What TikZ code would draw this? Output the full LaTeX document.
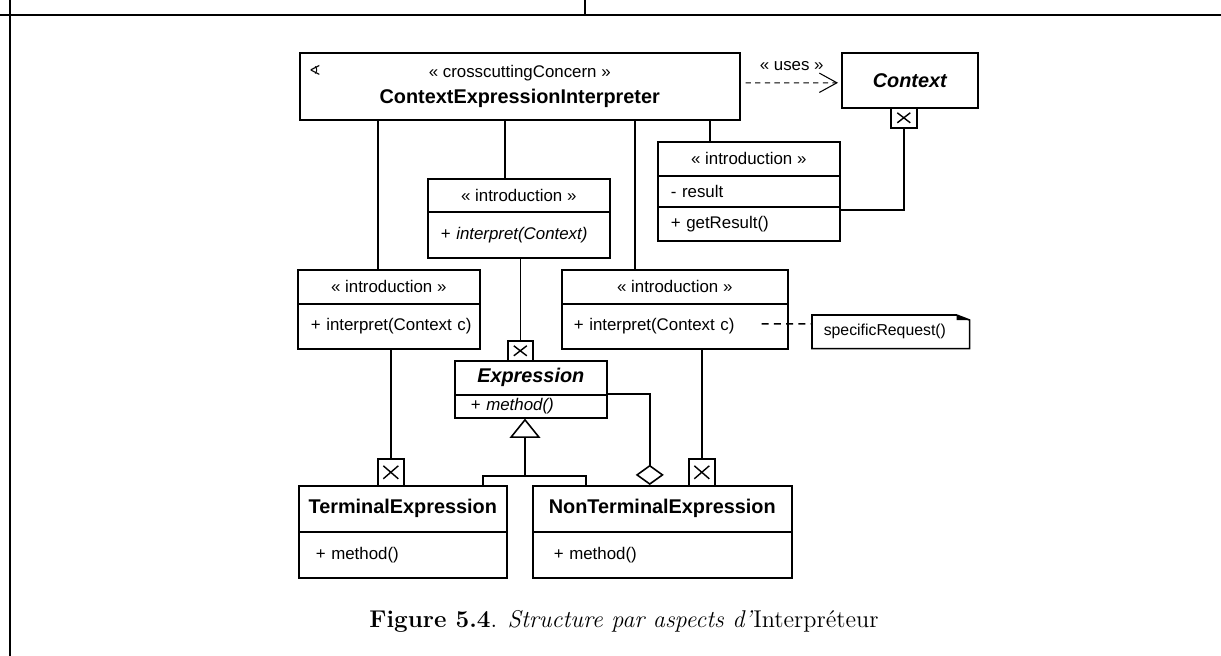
\documentclass[tikz,border=0pt]{standalone}
\usepackage{fontspec}
\usepackage{tikz}
\usetikzlibrary{arrows.meta, positioning, calc}
\newfontfamily\umlfont{Liberation Sans}
\newfontfamily\iconfont{DejaVu Sans}
\newcommand\regf{\umlfont\fontsize{9.6}{11.5}\selectfont}
\newcommand\namef{\umlfont\bfseries\fontsize{11.3}{13}\selectfont}
\tikzstyle{classbox} = [draw, line width=0.9pt, anchor=north west, inner sep=0pt, font=\regf]
\tikzstyle{member} = [classbox, align=left]
\tikzstyle{qualif} = [classbox, minimum width=0.52cm, path picture={\draw[line width=0.8pt] ([shift={(-6.5,-5)}]path picture bounding box.center) -- ++(13,10) ([shift={(-6.5,5)}]path picture bounding box.center) -- ++(13,-10);}]
\tikzstyle{qualifbig} = [classbox, minimum width=0.52cm, path picture={\draw[line width=0.8pt] ([shift={(-7.5,-6.5)}]path picture bounding box.center) -- ++(15,13) ([shift={(-7.5,6.5)}]path picture bounding box.center) -- ++(15,-13);}]
\tikzstyle{link} = [line width=0.9pt]

\begin{document}
\begin{tikzpicture}[x=0.02cm, y=-0.02cm]
    \useasboundingbox (0,0) rectangle (1221,656);

    % Cadre
    \draw[line width=1.4pt] (0,15) -- (1221,15);
    \draw[line width=1.4pt] (10,0) -- (10,656);
    \draw[line width=0.7pt] (585,0) -- (585,15);

    % Aspect
    \node[classbox, minimum width=8.8cm, minimum height=1.34cm, align=center] (main) at (299,52) {« crosscuttingConcern »\\[3.2pt]{\namef ContextExpressionInterpreter}};
    \node (mainicon) at (315,70) {\iconfont\fontsize{8}{8}\selectfont ∢};

    % Context
    \node[classbox, minimum width=2.72cm, minimum height=1.1cm, font=\namef] (ctx) at (841,52) {\itshape Context};
    \node[qualif, minimum height=0.4cm] (ctxQ) at (890,107) {};
    \draw[line width=0.6pt, dash pattern=on 3pt off 2.5pt, -{Straight Barb[length=10pt,width=11pt]}] ([xshift=0.1cm,yshift=0.07cm]main.east) -- node[above=0.12cm, font=\regf] {« uses »} ([xshift=-0.06cm,yshift=-0.05cm]ctx.west);

    % Introductions
    \node[classbox, minimum width=3.64cm, minimum height=0.68cm] (resHead) at (657,141) {« introduction »};
    \node[member, minimum width=3.64cm, minimum height=0.62cm, text width=3.12cm] (resAttr) at (657,175) {- result};
    \node[member, minimum width=3.64cm, minimum height=0.68cm, text width=3.12cm] (resOp) at (657,206) {+ getResult()};

    \node[classbox, minimum width=3.64cm, minimum height=0.66cm] (midHead) at (427,178) {« introduction »};
    \node[member, minimum width=3.64cm, minimum height=0.92cm, text width=3.12cm] (midOp) at (427,211) {\mbox{+ \textit{interpret(Context)}}};

    \node[classbox, minimum width=3.64cm, minimum height=0.68cm] (leftHead) at (297,269) {« introduction »};
    \node[member, minimum width=3.64cm, minimum height=0.9cm, text width=3.12cm] (leftOp) at (297,303) {\mbox{+ interpret(Context c)}};

    \node[classbox, minimum width=4.52cm, minimum height=0.68cm] (rightHead) at (561,269) {« introduction »};
    \node[member, minimum width=4.52cm, minimum height=0.9cm, text width=4.04cm] (rightOp) at (561,303) {\mbox{+ interpret(Context c)}};

    % Note
    \node[member, draw=none, minimum width=3.12cm, minimum height=0.64cm, text width=2.68cm, font=\umlfont\fontsize{9}{11}\selectfont] (note) at (812,315) {specificRequest()};
    \draw[link] (note.north west) -- ([xshift=-0.26cm]note.north east) -- ([yshift=-0.1cm]note.north east) -- (note.south east) -- (note.south west) -- cycle;
    \fill ([xshift=-0.26cm]note.north east) -- ([yshift=-0.1cm]note.north east) -- ([xshift=-0.26cm,yshift=-0.1cm]note.north east) -- cycle;

    % Classes
    \node[qualif, minimum width=0.5cm, minimum height=0.4cm] (exprQ) at (507,340) {};
    \node[classbox, minimum width=3.04cm, minimum height=0.68cm, font=\namef] (exprHead) at (454,360) {\itshape Expression};
    \node[member, minimum width=3.04cm, minimum height=0.46cm, text width=2.4cm] (exprOp) at (454,394) {+ \textit{method()}};

    \node[qualifbig, minimum height=0.54cm] (termQ) at (377,458) {};
    \node[classbox, minimum width=4.16cm, minimum height=0.92cm, font=\namef] (termHead) at (298,485) {TerminalExpression};
    \node[member, minimum width=4.16cm, minimum height=0.92cm, text width=3.48cm] (termOp) at (298,531) {+ method()};

    \node[qualifbig, minimum height=0.54cm] (ntQ) at (688,458) {};
    \node[classbox, minimum width=5.18cm, minimum height=0.92cm, font=\namef] (ntHead) at (532,485) {NonTerminalExpression};
    \node[member, minimum width=5.18cm, minimum height=0.92cm, text width=4.34cm] (ntOp) at (532,531) {+ method()};

    % Liens
    \draw[link] ([xshift=-0.22cm]leftHead.north) -- ([xshift=-0.22cm]leftHead.north |- main.south);
    \draw[link] ([xshift=-0.28cm]midHead.north) -- ([xshift=-0.28cm]midHead.north |- main.south);
    \draw[link] ([xshift=-0.8cm]rightHead.north) -- ([xshift=-0.8cm]rightHead.north |- main.south);
    \draw[link] ([xshift=-0.78cm]resHead.north) -- ([xshift=-0.78cm]resHead.north |- main.south);
    \draw[link] (ctxQ.south) |- ([yshift=0.28cm]resOp.east);
    \draw[link] (exprQ.north) -- (exprQ.north |- midOp.south);
    \draw[link] (termQ.north) -- (termQ.north |- leftOp.south);
    \draw[link] (ntQ.north) -- (ntQ.north |- rightOp.south);
    \draw[link, dash pattern=on 4pt off 3pt] ([xshift=-0.54cm,yshift=0.05cm]rightOp.east) -- ([yshift=0.16cm]note.west);

    % Heritage et agregation
    \coordinate (gen) at (525,476);
    \draw[link, -{Triangle[open, length=11pt, width=17.5pt]}] (gen) -- (gen |- exprOp.south);
    \draw[link] ([xshift=1.6cm]termHead.north) |- (gen) -| ([xshift=-1.53cm]ntHead.north);
    \draw[link, -{Diamond[open, length=11.5pt, width=16pt]}] (exprOp.north east) -| ([xshift=-0.25cm]ntHead.north);

    % Legende
    \node (caption) at (624,621) {\fontsize{13.8}{16}\selectfont\textbf{Figure 5.4}. \textit{Structure par aspects d'}Interpréteur};
\end{tikzpicture}
\end{document}
